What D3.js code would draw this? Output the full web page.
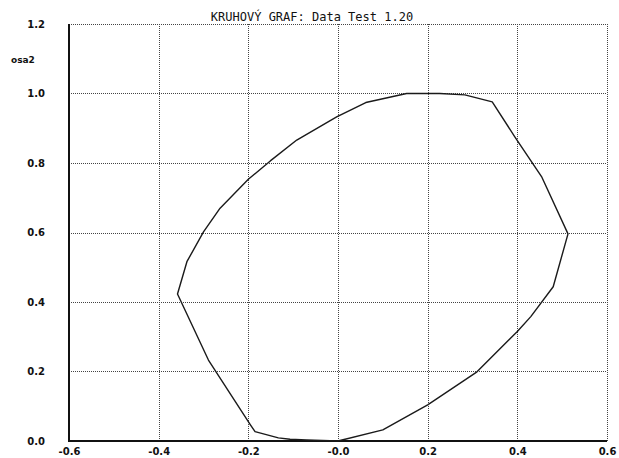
<!DOCTYPE html>
<html>
<head>
<meta charset="utf-8">
<script src="https://cdn.jsdelivr.net/npm/d3@7"></script>
<style>
  html, body { margin: 0; padding: 0; background: #fff; }
  svg { display: block; }
  .tick text { font-family: "DejaVu Sans", sans-serif; font-size: 10px; font-weight: bold; fill: #111; }
</style>
</head>
<body>
<script>
// Closed curve vertices, walked counter-clockwise from the origin
const curveX = [0.00, 0.10, 0.20, 0.31, 0.40, 0.43, 0.48, 0.513, 0.454, 0.394, 0.344, 0.283, 0.227, 0.153, 0.062, -0.003, -0.092, -0.151, -0.20, -0.263, -0.300, -0.337, -0.358, -0.289, -0.195, -0.185, -0.133, -0.107, -0.07, 0.00];
const curveY = [0.00, 0.032, 0.104, 0.199, 0.315, 0.358, 0.444, 0.596, 0.761, 0.876, 0.976, 0.996, 1.0, 1.0, 0.974, 0.933, 0.866, 0.806, 0.753, 0.670, 0.602, 0.516, 0.423, 0.233, 0.046, 0.027, 0.009, 0.005, 0.003, 0.00];

// Axis ticks and their labels
const xTicks = [-0.6, -0.4, -0.2, 0.0, 0.2, 0.4, 0.6];
const xTickLabels = ["-0.6", "-0.4", "-0.2", "-0.0", "0.2", "0.4", "0.6"];
const yTicks = [0.0, 0.2, 0.4, 0.6, 0.8, 1.0, 1.2];
const yTickLabels = ["0.0", "0.2", "0.4", "0.6", "0.8", "1.0", "1.2"];

const titleText = "KRUHOVÝ GRAF: Data Test 1.20";
const yAxisName = "osa2";

(function draw() {
  const W = 619, H = 458;
  const pLeft = 69, pRight = 607, pTop = 24, pBottom = 441;

  const svg = d3.select("body").append("svg").attr("width", W).attr("height", H);
  svg.append("rect").attr("width", W).attr("height", H).attr("fill", "#fff");

  const x = d3.scaleLinear().domain([-0.6, 0.6]).range([pLeft, pRight]);
  const y = d3.scaleLinear().domain([0, 1.2]).range([pBottom, pTop]);

  // Dotted grid, including the top and right borders
  const grid = svg.append("g").attr("stroke", "#444").attr("stroke-width", 1)
    .attr("stroke-dasharray", "1,1").attr("shape-rendering", "crispEdges");
  grid.selectAll("line.v").data(xTicks.slice(1)).join("line")
    .attr("x1", d => Math.round(x(d)) + 0.5).attr("x2", d => Math.round(x(d)) + 0.5)
    .attr("y1", pTop).attr("y2", pBottom);
  grid.selectAll("line.h").data(yTicks.slice(1)).join("line")
    .attr("x1", pLeft).attr("x2", pRight)
    .attr("y1", d => Math.round(y(d)) + 0.5).attr("y2", d => Math.round(y(d)) + 0.5);

  // Tick labels
  const xAxis = d3.axisBottom(x).tickValues(xTicks).tickSize(0).tickPadding(7)
    .tickFormat((d, i) => xTickLabels[i]);
  const gx = svg.append("g").attr("transform", `translate(0,${pBottom})`).call(xAxis);
  gx.select(".domain").remove();

  const yAxis = d3.axisLeft(y).tickValues(yTicks).tickSize(0).tickPadding(24)
    .tickFormat((d, i) => yTickLabels[i]);
  const gy = svg.append("g").attr("transform", `translate(${pLeft},0)`).call(yAxis);
  gy.select(".domain").remove();

  // Solid left and bottom axis lines
  svg.append("line").attr("x1", pLeft).attr("x2", pLeft).attr("y1", pTop).attr("y2", pBottom + 1)
    .attr("stroke", "#111").attr("stroke-width", 2);
  svg.append("line").attr("x1", pLeft - 1).attr("x2", pRight).attr("y1", pBottom).attr("y2", pBottom)
    .attr("stroke", "#111").attr("stroke-width", 2);

  // The curve
  const pts = curveX.map((v, i) => [v, curveY[i]]);
  const line = d3.line().x(d => x(d[0])).y(d => y(d[1]));
  svg.append("path").datum(pts).attr("d", line)
    .attr("fill", "none").attr("stroke", "#1a1a1a").attr("stroke-width", 1.4)
    .attr("stroke-linejoin", "round");

  // Title and y-axis name
  svg.append("text").attr("x", 312).attr("y", 21).attr("text-anchor", "middle")
    .attr("font-family", "DejaVu Sans Mono, monospace").attr("font-size", 12)
    .attr("fill", "#111").text(titleText);
  svg.append("text").attr("x", 11).attr("y", 63)
    .attr("font-family", "DejaVu Sans, sans-serif").attr("font-size", 9).attr("font-weight", "bold")
    .attr("fill", "#111").text(yAxisName);
})();
</script>
</body>
</html>
